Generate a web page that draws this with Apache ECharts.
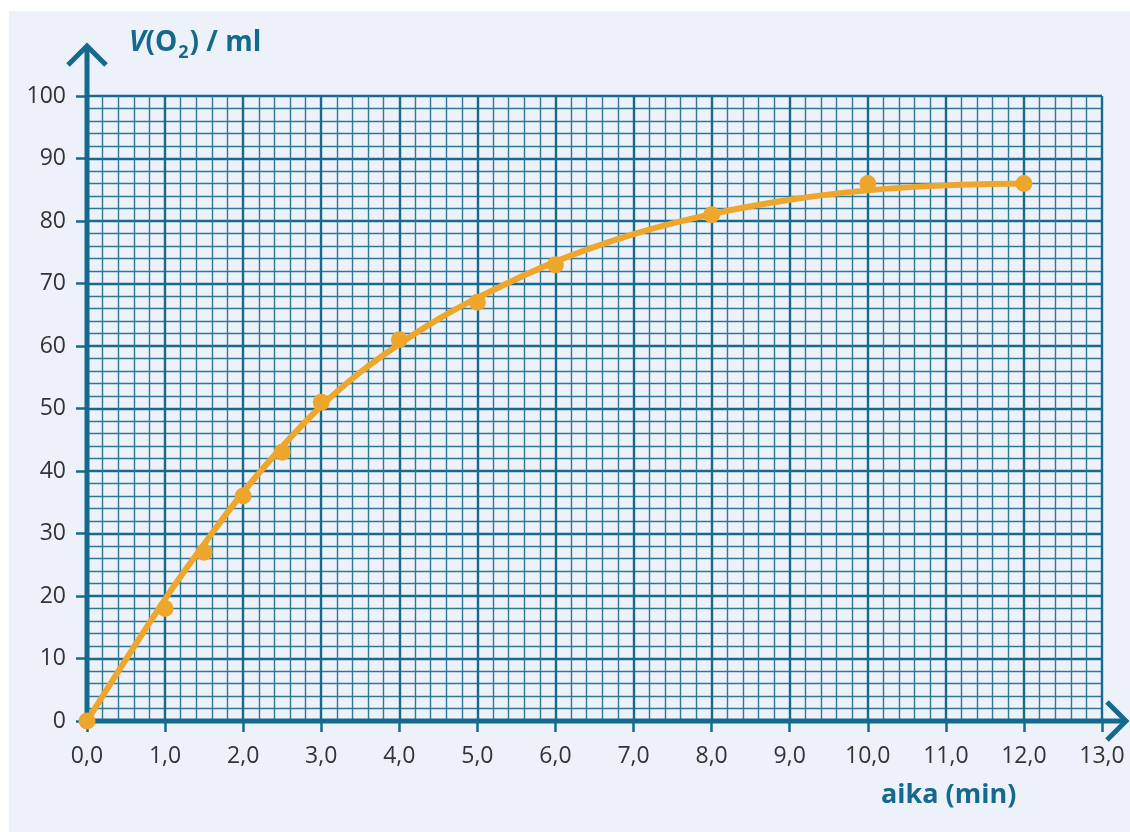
<!DOCTYPE html>
<html><head><meta charset="utf-8">
<script src="https://cdn.jsdelivr.net/npm/echarts@6/dist/echarts.min.js"></script>
<style>html,body{margin:0;padding:0;background:#fff}#c{width:1130px;height:832px}</style>
</head><body><div id="c"></div>
<script>
// measured points
const measureTimes = [0, 1, 1.5, 2, 2.5, 3, 4, 5, 6, 8, 10, 12];
const measureVolumes = [0, 18, 27, 36, 43, 51, 61, 67, 73, 81, 86, 86];
// fitted curve
const curveTimes = [0, 1, 1.5, 2, 2.5, 3, 3.5, 4, 4.5, 5, 6, 7, 8, 9, 10, 11, 12];
const curveVolumes = [0, 19.5, 28.3, 36.6, 43.9, 50.4, 55.8, 60.3, 64.3, 67.7, 73.5, 77.9, 81.1, 83.4, 84.9, 85.7, 86];
// ticks
const xTickValues = [0,1,2,3,4,5,6,7,8,9,10,11,12,13];
const xTickLabels = ['0,0','1,0','2,0','3,0','4,0','5,0','6,0','7,0','8,0','9,0','10,0','11,0','12,0','13,0'];
const yTickValues = [0,10,20,30,40,50,60,70,80,90,100];
const yTickLabels = ['0','10','20','30','40','50','60','70','80','90','100'];

const TEAL = '#15698c';
const MAJOR = '#186a8d';
const MINOR = '#2f7898';
const ORANGE = '#efa62d';
const FONT = '"Open Sans", sans-serif';

const chart = echarts.init(document.getElementById('c'), null, {renderer: 'canvas'});
const option = {
  animation: false,
  backgroundColor: '#ffffff',
  grid: {left: 87, top: 96, right: 28, bottom: 111, containLabel: false},
  title: [
    {left: 124, top: 20, text: '{v|V}{b|(O}{s|2}{b|) / ml}',
     textStyle: {rich: {
       v: {fontFamily: FONT, fontSize: 28, fontWeight: 'bold', fontStyle: 'italic', color: TEAL},
       b: {fontFamily: FONT, fontSize: 28, fontWeight: 'bold', color: TEAL},
       s: {fontFamily: FONT, fontSize: 18, fontWeight: 'bold', color: TEAL, verticalAlign: 'bottom', padding: [19, 1, 0, 1]}
     }}},
    {left: 876, top: 777, text: 'aika (min)',
     textStyle: {fontFamily: FONT, fontSize: 27, fontWeight: 'bold', color: TEAL}}
  ],
  xAxis: {
    type: 'value', min: 0, max: 13, interval: 1,
    axisLine: {show: false},
    axisTick: {show: true, length: 11, lineStyle: {color: TEAL, width: 2.5}},
    axisLabel: {margin: 24, fontFamily: FONT, fontSize: 23, color: '#333',
      formatter: v => xTickLabels[xTickValues.indexOf(Math.round(v))] ?? ''},
    splitLine: {show: true, lineStyle: {color: MAJOR, width: 2.4}},
    minorTick: {show: false, splitNumber: 5},
    minorSplitLine: {show: true, lineStyle: {color: MINOR, width: 1.4}}
  },
  yAxis: {
    type: 'value', min: 0, max: 100, interval: 10,
    axisLine: {show: false},
    axisTick: {show: true, length: 11, lineStyle: {color: TEAL, width: 2.5}},
    axisLabel: {margin: 21, fontFamily: FONT, fontSize: 23, color: '#333',
      formatter: v => yTickLabels[yTickValues.indexOf(Math.round(v))] ?? ''},
    splitLine: {show: true, lineStyle: {color: MAJOR, width: 2.4}},
    minorTick: {show: false, splitNumber: 5},
    minorSplitLine: {show: true, lineStyle: {color: MINOR, width: 1.4}}
  },
  series: [
    {type: 'line', z: 4, smooth: 0.4, showSymbol: false,
     data: curveTimes.map((t, i) => [t, curveVolumes[i]]),
     lineStyle: {color: ORANGE, width: 6}},
    {type: 'scatter', z: 6, symbolSize: 17,
     data: measureTimes.map((t, i) => [t, measureVolumes[i]]),
     itemStyle: {color: ORANGE, opacity: 1}}
  ]
};
chart.setOption(option);

const o = chart.convertToPixel({gridIndex: 0}, [0, 0]);
const xe = chart.convertToPixel({gridIndex: 0}, [13, 0]);
const ye = chart.convertToPixel({gridIndex: 0}, [0, 100]);
const yTip = ye[1] - 51, xTip = xe[0] + 25;
chart.setOption({
  graphic: [
    {type: 'rect', z: -10, silent: true, shape: {x: 9, y: 11, width: 1121, height: 821}, style: {fill: '#edf2fa'}},
    {type: 'line', z: 3, shape: {x1: o[0], y1: o[1] + 2.5, x2: o[0], y2: yTip + 2}, style: {stroke: TEAL, lineWidth: 5}},
    {type: 'polyline', z: 3, shape: {points: [[o[0] - 19, yTip + 20], [o[0], yTip + 1], [o[0] + 19, yTip + 20]]}, style: {stroke: TEAL, lineWidth: 5, fill: null}},
    {type: 'line', z: 3, shape: {x1: o[0] - 2.5, y1: o[1], x2: xTip - 2, y2: o[1]}, style: {stroke: TEAL, lineWidth: 5}},
    {type: 'polyline', z: 3, shape: {points: [[xTip - 20, o[1] - 19], [xTip - 1, o[1]], [xTip - 20, o[1] + 19]]}, style: {stroke: TEAL, lineWidth: 5, fill: null}}
  ]
});
</script></body></html>
